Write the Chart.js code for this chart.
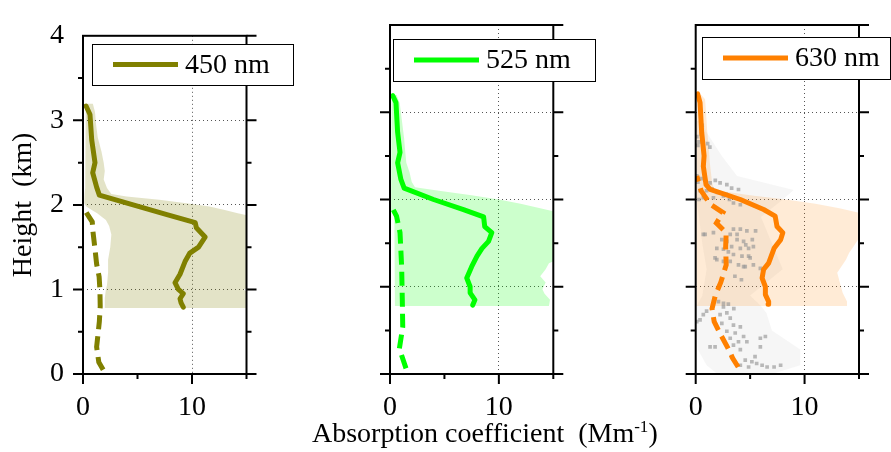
<!DOCTYPE html>
<html>
<head>
<meta charset="utf-8">
<script src="https://cdn.jsdelivr.net/npm/chart.js@4.4.1/dist/chart.umd.min.js"></script>
<style>
  html, body { margin: 0; padding: 0; background: #fff; }
  #wrap { position: relative; width: 891px; height: 452px; overflow: hidden; }
  canvas { position: absolute; top: 0; }
  #xtitle { position: absolute; left: 312px; top: 419px; font: 28px/28px 'Liberation Serif', 'Times New Roman', serif; white-space: nowrap; color: #000; }
  #xtitle sup { font-size: 17px; line-height: 0; }
</style>
</head>
<body>
<div id="wrap">
  <canvas id="c450" width="300" height="452" style="left:0"></canvas>
  <canvas id="c525" width="300" height="452" style="left:300px"></canvas>
  <canvas id="c630" width="291" height="452" style="left:600px"></canvas>
  <div id="xtitle">Absorption coefficient&nbsp; (Mm<sup>-1</sup>)</div>
</div>
<script>
  'use strict';

  var FONT = "'Liberation Serif', 'Times New Roman', serif";

  var xTickLabels = ['0', '10'];
  var yTickLabels = ['0', '1', '2', '3', '4'];

  // 450 nm
  var h450 = [0.79, 0.84, 0.89, 0.95, 1.00, 1.08, 1.18, 1.33, 1.43, 1.50, 1.62, 1.73, 1.79, 1.885, 2.0, 2.115, 2.21, 2.38, 2.50, 2.77, 3.07, 3.17];
  var abs450 = [9.2, 9.0, 8.9, 9.2, 8.75, 8.44, 8.9, 9.36, 9.8, 10.6, 11.2, 10.4, 10.3, 7.7, 4.6, 1.5, 1.25, 0.89, 1.1, 0.8, 0.64, 0.28];
  var h450dash = [0.05, 0.14, 0.32, 0.62, 0.8, 1.0, 1.15, 1.3, 1.5, 1.7, 1.8, 1.9, 1.97];
  var abs450dash = [1.85, 1.45, 1.25, 1.5, 1.58, 1.55, 1.48, 1.25, 1.08, 0.9, 0.85, 0.35, 0.05];
  var band450H = [0.78, 0.9, 1.0, 1.05, 1.2, 1.35, 1.5, 1.65, 1.75, 1.82, 1.85, 1.9, 1.94, 1.98, 2.02, 2.06, 2.1, 2.13, 2.2, 2.3, 2.4, 2.5, 2.63, 2.8, 2.95, 3.1, 3.2];
  var band450Min = [2.0, 2.0, 2.1, 2.2, 2.3, 2.3, 2.5, 2.6, 2.4, 2.1, 1.8, 1.3, 0.8, 0.3, 0.1, 0.1, 0.15, 0.15, 0.2, 0.2, 0.2, 0.2, 0.2, 0.2, 0.2, 0.25, 0.3];
  var band450Max = [16, 16, 14.7, 16, 16, 16, 16, 16, 16, 16, 16, 14.2, 13.0, 11.6, 9.5, 7.0, 4.0, 2.6, 2.2, 1.9, 2.0, 1.9, 1.7, 1.35, 1.2, 1.1, 0.9];

  // 525 nm
  var h525 = [0.79, 0.85, 0.93, 1.00, 1.10, 1.23, 1.35, 1.44, 1.52, 1.62, 1.69, 1.80, 1.885, 2.0, 2.13, 2.23, 2.42, 2.54, 2.77, 3.11, 3.19];
  var abs525 = [7.6, 7.8, 7.36, 7.36, 7.05, 7.5, 7.99, 8.45, 9.05, 9.35, 8.7, 8.6, 6.75, 4.0, 1.3, 1.0, 0.7, 0.92, 0.7, 0.55, 0.25];
  var h525dash = [0.065, 0.29, 0.54, 0.85, 1.23, 1.62, 1.81, 1.94];
  var abs525dash = [1.47, 0.86, 1.17, 1.13, 1.07, 0.92, 0.6, 0.06];
  var band525H = [0.78, 0.85, 0.92, 0.97, 1.05, 1.12, 1.2, 1.27, 1.35, 1.5, 1.65, 1.8, 1.865, 1.9, 1.95, 2.0, 2.05, 2.1, 2.14, 2.2, 2.31, 2.42, 2.55, 2.7, 2.9, 3.1, 3.2];
  var band525Min = [0.45, 0.45, 0.45, 0.45, 0.45, 0.45, 0.45, 0.45, 0.45, 0.45, 0.45, 0.4, 0.1, 0.1, 0.1, 0.1, 0.1, 0.1, 0.1, 0.1, 0.1, 0.1, 0.1, 0.1, 0.1, 0.15, 0.2];
  var band525Max = [14.6, 14.7, 14.2, 14.0, 14.3, 13.8, 14.3, 14.6, 16, 16, 16, 16, 15, 13.8, 12.0, 10.0, 7.5, 4.5, 2.3, 2.0, 1.8, 1.5, 1.4, 1.3, 1.1, 0.9, 0.6];

  // 630 nm
  var h630 = [0.80, 0.83, 0.91, 1.00, 1.10, 1.20, 1.27, 1.44, 1.54, 1.62, 1.69, 1.81, 1.885, 2.0, 2.115, 2.17, 2.38, 2.50, 2.77, 3.11, 3.21];
  var abs630 = [6.65, 6.7, 6.4, 6.4, 6.1, 6.24, 6.7, 7.2, 7.8, 8.0, 7.47, 7.3, 6.24, 4.1, 1.32, 0.95, 0.7, 0.77, 0.55, 0.4, 0.18];
  var h630dash = [0.08, 0.18, 0.3, 0.45, 0.6, 0.75, 0.9, 1.05, 1.25, 1.45, 1.62, 1.73, 1.85, 1.95, 2.1, 2.27];
  var abs630dash = [3.9, 3.4, 2.95, 2.3, 1.7, 1.5, 1.8, 2.3, 2.8, 2.75, 2.8, 1.9, 2.5, 1.3, 0.5, 0.1];
  var band630H = [0.78, 0.83, 0.93, 1.02, 1.16, 1.31, 1.39, 1.46, 1.54, 1.65, 1.78, 1.85, 1.9, 1.95, 2.0, 2.05, 2.11, 2.2, 2.42, 2.6, 2.8, 3.0, 3.15, 3.2];
  var band630Min = [0.05, 0.05, 0.05, 0.05, 0.05, 0.05, 0.05, 0.05, 0.05, 0.05, 0.05, 0.05, 0.05, 0.05, 0.05, 0.05, 0.05, 0.1, 0.1, 0.1, 0.1, 0.1, 0.15, 0.2];
  var band630Max = [13.9, 13.9, 13.5, 13.3, 13.0, 13.8, 14.1, 14.5, 14.9, 14.9, 14.9, 14.9, 13.2, 11.0, 8.3, 5.0, 1.7, 1.5, 1.3, 1.2, 1.05, 0.95, 0.86, 0.5];

  // 630 nm: individual measurements (grey squares) and their spread
  var grayPtX = [0.1, 0.3, 0.2, 0.5, 1.1, 1.3, 0.6,
    0.1, 0.2, 0.5, 1.32, 1.8, 2.24, 2.86, 3.3, 3.93, 0.7, 1.63, 2.55, 3.47, 4.1, 1.0, 2.0, 2.8, 3.1, 0.3, 0.4, 1.5,
    0.86, 1.63, 1.94, 1.78, 2.55, 3.17, 3.47, 4.1, 4.7, 5.5, 3.8, 4.4, 5.2, 3.3, 4.1, 4.86, 5.3, 3.47, 4.25, 5.0,
    3.17, 3.93, 4.55, 5.3, 5.94, 2.55, 2.4, 2.86, 4.86, 4.4, 3.6, 4.2, 3.8, 4.6, 3.0, 0.7, 1.94,
    2.09, 2.55, 0.7, 0.4, 2.55, 2.86, 2.24, 3.17, 2.4, 3.47, 4.1, 2.86, 3.63, 4.4, 3.17, 3.93, 4.7, 3.47, 1.32, 1.78,
    5.94, 5.94, 4.1, 3.3, 4.55, 5.16, 5.6, 6.1, 4.86, 4.1, 6.56, 5.45, 7.2, 7.8, 6.4, 1.0, 0.1, 3.5, 3.0];
  var grayPtH = [2.72, 2.66, 2.62, 2.75, 2.64, 2.6, 2.85,
    2.27, 2.2, 2.24, 2.19, 2.22, 2.19, 2.17, 2.13, 2.115, 2.02, 2.02, 2.04, 1.96, 1.94, 2.1, 2.08, 2.06, 2.0, 2.0, 2.1, 2.12,
    1.60, 1.62, 1.44, 1.33, 1.43, 1.60, 1.66, 1.66, 1.64, 1.64, 1.54, 1.52, 1.54, 1.46, 1.44, 1.44, 1.46, 1.37, 1.35, 1.33,
    1.29, 1.25, 1.23, 1.25, 1.21, 1.29, 1.54, 1.52, 1.35, 1.23, 1.12, 1.08, 1.60, 1.48, 1.40, 1.60, 1.31,
    0.83, 0.81, 0.68, 0.62, 0.77, 0.70, 0.68, 0.64, 0.58, 0.56, 0.54, 0.49, 0.47, 0.43, 0.41, 0.37, 0.37, 0.33, 0.31, 0.31,
    0.41, 0.31, 0.28, 0.20, 0.16, 0.14, 0.12, 0.10, 0.08, 0.10, 0.08, 0.20, 0.08, 0.10, 0.43, 0.72, 0.60, 0.75, 0.80];
  var grayBandH = [0.0, 0.1, 0.28, 0.5, 0.7, 0.78, 0.9, 1.2, 1.5, 1.8, 2.0, 2.11, 2.27, 2.5, 2.77, 2.9];
  var grayBandMin = [2.0, 1.0, 0.2, 0.1, 0.1, 0.1, 0.6, 1.0, 0.6, 0.3, 0.1, 0.05, 0.05, 0.05, 0.05, 0.1];
  var grayBandMax = [7.0, 9.6, 9.6, 7.0, 6.5, 6.0, 5.0, 8.0, 7.0, 6.0, 8.0, 9.0, 3.8, 2.4, 1.0, 0.6];

  function pts(xs, hs) {
    return xs.map(function (v, i) { return { x: v, y: hs[i] }; });
  }

  function profile(label, color, xs, hs) {
    return { label: label, data: pts(xs, hs), borderColor: color, borderWidth: 5, pointRadius: 0,
      fill: false, order: 1, borderJoinStyle: 'round', borderCapStyle: 'round' };
  }

  function dashed(color, xs, hs) {
    return { label: 'mean', data: pts(xs, hs), borderColor: color, borderWidth: 5, pointRadius: 0,
      fill: false, order: 2, borderDash: [14, 7] };
  }

  // two datasets, the first one filled to the second
  function band(fillColor, hs, mins, maxs, order) {
    return [
      { label: 'max', data: pts(maxs, hs), fill: '+1', backgroundColor: fillColor, borderWidth: 0, pointRadius: 0, order: order },
      { label: 'min', data: pts(mins, hs), fill: false, borderWidth: 0, pointRadius: 0, order: order }
    ];
  }

  // axis frame with outward ticks
  var framePlugin = {
    id: 'frame',
    afterDatasetsDraw: function (chart) {
      var ctx = chart.ctx;
      var a = chart.chartArea;
      var x = chart.scales.x;
      var y = chart.scales.y;
      ctx.save();
      ctx.strokeStyle = '#000';
      ctx.lineWidth = 2;
      ctx.strokeRect(a.left, a.top, a.right - a.left, a.bottom - a.top);
      ctx.beginPath();
      for (var v = 0; v <= 4; v += 0.5) {
        var py = y.getPixelForValue(v);
        var len = v % 1 === 0 ? 10 : 5;
        if (v < 4) { ctx.moveTo(a.left - len, py); ctx.lineTo(a.left, py); }
        ctx.moveTo(a.right, py); ctx.lineTo(a.right + len, py);
      }
      for (var u = 0; u <= 15; u += 5) {
        var px = x.getPixelForValue(u);
        var l2 = u % 10 === 0 ? 10 : 5;
        ctx.moveTo(px, a.bottom); ctx.lineTo(px, a.bottom + l2);
      }
      ctx.stroke();
      ctx.restore();
    }
  };

  // boxed legend showing the solid profile
  var boxLegendPlugin = {
    id: 'boxLegend',
    afterDraw: function (chart, args, opts) {
      var ds = chart.data.datasets[opts.dataset];
      var a = chart.chartArea;
      var ctx = chart.ctx;
      var l = Math.round(a.left + opts.dx);
      var t = Math.round(a.top + opts.dy);
      var mid = t + opts.h / 2;
      ctx.save();
      ctx.fillStyle = '#fff';
      ctx.fillRect(l, t, opts.w, opts.h);
      ctx.strokeStyle = '#000';
      ctx.lineWidth = 1;
      ctx.strokeRect(l + 0.5, t + 0.5, opts.w, opts.h);
      ctx.strokeStyle = ds.borderColor;
      ctx.lineWidth = 5;
      ctx.beginPath();
      ctx.moveTo(l + 21, mid);
      ctx.lineTo(l + 86, mid);
      ctx.stroke();
      ctx.fillStyle = '#000';
      ctx.font = '28px ' + FONT;
      ctx.textBaseline = 'middle';
      ctx.fillText(ds.label, l + 93, mid + 1);
      ctx.restore();
    }
  };

  function makePanel(id, o) {
    return new Chart(document.getElementById(id), {
      type: 'line',
      data: { datasets: o.datasets },
      options: {
        responsive: false,
        animation: false,
        devicePixelRatio: 1,
        indexAxis: 'y',
        layout: { padding: { left: 0, right: o.padRight, top: 25, bottom: 0 } },
        plugins: {
          legend: { display: false },
          tooltip: { enabled: false },
          boxLegend: o.legend
        },
        elements: { line: { tension: 0 } },
        scales: {
          x: {
            type: 'linear', min: 0, max: 15, offset: false,
            afterFit: function (s) { s.height = 78; },
            ticks: {
              stepSize: 5, autoSkip: false, maxRotation: 0, padding: 17, color: '#000',
              font: { family: FONT, size: 28 },
              callback: function (v) { return xTickLabels.indexOf(String(v)) >= 0 ? String(v) : ''; }
            },
            grid: {
              drawTicks: false, lineWidth: 1,
              color: function (c) { return c.tick && c.tick.value === 10 ? '#555' : 'rgba(0,0,0,0)'; }
            },
            border: { display: false, dash: [1, 3] }
          },
          y: {
            type: 'linear', min: 0, max: 4, offset: false,
            afterFit: function (s) { s.width = o.yWidth; },
            ticks: {
              display: o.showY, stepSize: 0.5, autoSkip: false, padding: 19, color: '#000',
              font: { family: FONT, size: 28 },
              callback: function (v) { return yTickLabels.indexOf(String(v)) >= 0 ? String(v) : ''; }
            },
            title: {
              display: o.showY, text: 'Height  (km)', color: '#000',
              font: { family: FONT, size: 28 }, padding: { top: 7, bottom: 0 }
            },
            grid: {
              drawTicks: false, lineWidth: 1,
              color: function (c) {
                var v = c.tick ? c.tick.value : -1;
                return (v === 1 || v === 2 || v === 3) ? '#555' : 'rgba(0,0,0,0)';
              }
            },
            border: { display: false, dash: [1, 3] }
          }
        }
      },
      plugins: [framePlugin, boxLegendPlugin]
    });
  }

  makePanel('c450', {
    yWidth: 83, padRight: 53.5, showY: true,
    legend: { dataset: 0, dx: 9, dy: 8, w: 201, h: 41 },
    datasets: [
      profile('450 nm', '#808000', abs450, h450),
      dashed('#808000', abs450dash, h450dash)
    ].concat(band('rgba(128,128,0,0.22)', band450H, band450Min, band450Max, 4))
  });

  makePanel('c525', {
    yWidth: 90, padRight: 46.7, showY: false,
    legend: { dataset: 0, dx: 3, dy: 14, w: 202, h: 42 },
    datasets: [
      profile('525 nm', '#00ff00', abs525, h525),
      dashed('#00ff00', abs525dash, h525dash)
    ].concat(band('rgba(0,255,0,0.2)', band525H, band525Min, band525Max, 4))
  });

  makePanel('c630', {
    yWidth: 95.7, padRight: 32, showY: false,
    legend: { dataset: 0, dx: 6, dy: 12, w: 188, h: 42 },
    datasets: [
      profile('630 nm', '#ff8000', abs630, h630),
      dashed('#ff8000', abs630dash, h630dash),
      { label: 'samples', data: pts(grayPtX, grayPtH), showLine: false, pointStyle: 'rect', pointRadius: 2.6,
        pointBackgroundColor: 'rgba(150,150,150,0.65)', pointBorderWidth: 0, order: 3 }
    ].concat(band('rgba(255,128,0,0.16)', band630H, band630Min, band630Max, 4))
     .concat(band('rgba(180,180,180,0.12)', grayBandH, grayBandMin, grayBandMax, 5))
  });
</script>
</body>
</html>
